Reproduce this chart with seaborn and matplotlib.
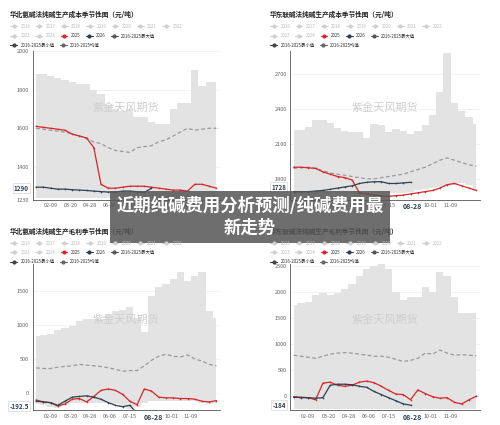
import matplotlib
matplotlib.use("Agg")
import matplotlib.pyplot as plt
import seaborn as sns
import numpy as np
import pandas as pd
from matplotlib.lines import Line2D

sns.set_style("white")
plt.rcParams['font.family'] = ['Noto Sans CJK SC', 'DejaVu Sans']

weeks = list(range(2, 54, 2))
tick_pos = [6, 11.5, 17, 22.5, 28, 34.5, 39.5, 45]
tick_labels = ["02-09", "03-20", "04-28", "06-06", "07-15", "08-28", "10-01", "11-09"]

titles = ["华北氨碱法纯碱生产成本季节性图（元/吨）", "华东联碱法纯碱生产成本季节性图（元/吨）",
          "华北氨碱法纯碱生产毛利季节性图（元/吨）", "华东联碱法纯碱生产毛利季节性图（元/吨）"]

tl_max = [1880,1880,1870,1860,1850,1840,1830,1830,1800,1780,1720,1700,1690,1700,1660,1660,1630,1620,1620,1700,1730,1730,1900,1820,1840,1840]
tl_min = [1240]*26
tl_mean = [1600,1595,1590,1585,1580,1570,1560,1545,1530,1520,1500,1485,1480,1475,1500,1505,1510,1530,1540,1560,1580,1600,1590,1595,1600,1600]
tl_2025 = [1610,1605,1600,1595,1590,1570,1560,1550,1500,1310,1290,1290,1295,1300,1300,1300,1295,1290,1285,1280,1280,1275,1310,1310,1300,1290]
tl_2026 = [1295,1295,1290,1285,1285,1282,1280,1278,1275,1272,1270,1270,1275,1275,1272,1268,1290]

tr_max = [2220,2220,2250,2310,2310,2280,2240,2210,2200,2200,2150,2270,2260,2200,2230,2210,2190,2210,2260,2350,2550,2880,2450,2380,2330,2270]
tr_min = [1680,1680,1680,1680,1680,1680,1680,1680,1680,1680,1680,1680,1680,1680,1680,1680,1690,1700,1710,1720,1730,1740,1750,1760,1750,1700]
tr_mean = [1890,1895,1900,1890,1870,1850,1840,1830,1820,1810,1800,1800,1810,1820,1830,1840,1860,1880,1900,1930,1960,1980,1960,1940,1920,1910]
tr_2025 = [1900,1900,1895,1890,1860,1840,1820,1810,1790,1680,1670,1660,1655,1650,1655,1660,1670,1680,1690,1700,1720,1750,1760,1740,1720,1700]
tr_2026 = [1690,1690,1690,1695,1700,1710,1720,1730,1740,1760,1770,1775,1775,1760,1760,1765,1770]

bl_max = [830,850,870,920,950,980,1050,1080,1090,1080,1160,1200,1220,1260,1100,900,1430,1560,1600,1680,1780,1640,1720,1770,1200,1100]
bl_min = [-160,-170,-200,-220,-180,-150,-150,-150,-150,-150,-150,-160,-200,-230,-200,-150,-120,-120,-120,-120,-120,-120,-120,-150,-160,-150]
bl_mean = [370,360,360,380,390,400,420,410,400,390,370,350,320,330,330,400,480,540,570,540,530,560,500,470,420,400]
bl_2025 = [-100,-130,-140,-190,-160,-90,-80,-130,-50,40,60,40,-20,-120,-170,60,30,-60,-70,-70,-80,-80,-90,-120,-130,-110]
bl_2026 = [-120,-130,-140,-180,-120,-60,-50,-40,-60,-90,-140,-180,-200,-180,-300,-300,-300]

br_max = [1750,1780,1800,1950,1980,1950,1990,2050,2150,2300,2450,2500,2550,2450,2000,1850,1900,1900,2100,2000,2380,2300,1900,1600,1600,1600]
br_min = [-250]*26
br_mean = [780,760,740,720,760,800,820,830,820,800,780,760,760,740,700,660,680,720,820,800,880,820,780,790,780,770]
br_2025 = [-20,-30,-40,-80,240,260,200,180,200,260,280,250,180,100,30,20,-80,110,40,-20,-50,-40,-130,-160,-80,-10]
br_2026 = [-30,-40,-40,-50,-40,200,220,220,210,180,160,80,20,-40,-100,-160,-184]

panels = [
    (tl_max, tl_min, tl_mean, tl_2025, tl_2026, (1230, 2000), [1230, 1400, 1600, 1800, 2000], "1290", 1290),
    (tr_max, tr_min, tr_mean, tr_2025, tr_2026, (1620, 2900), [1800, 2100, 2400, 2700], "1728", 1728),
    (bl_max, bl_min, bl_mean, bl_2025, bl_2026, (-250, 1900), [0, 500, 1000, 1500], "-192.5", -192.5),
    (br_max, br_min, br_mean, br_2025, br_2026, (-280, 2550), [0, 500, 1000, 1500, 2000, 2500], "-184", -184),
]

fig = plt.figure(figsize=(5, 4.25), dpi=100)
rects = [[0.065, 0.53, 0.375, 0.35], [0.58, 0.53, 0.38, 0.35],
         [0.065, 0.035, 0.375, 0.345], [0.58, 0.035, 0.38, 0.345]]
title_y = [0.975, 0.975, 0.465, 0.465]
title_x = [0.02, 0.54, 0.02, 0.54]

legend_labels = ["2016", "2017", "2018", "2019", "2020", "2021", "2022", "2023", "2024",
                 "2025", "2026", "2016-2025最大值", "2016-2025最小值", "2016-2025均值"]
legend_colors = ["#d0d0d0"]*9 + ["#d62728", "#2f4050", "#555555", "#444444", "#666666"]
text_colors = ["#bbbbbb"]*9 + ["#333333"]*5
rows = [(0, 7), (7, 12), (12, 14)]

for i, (mx, mn, mean, y25, y26, ylim, yt, lab, lv) in enumerate(panels):
    ax = fig.add_axes(rects[i])
    ax.fill_between(weeks, mn, mx, color="#e3e3e3", step="mid", lw=0)
    sns.lineplot(x=weeks, y=mean, ax=ax, color="#999999", lw=0.9, linestyle=(0, (3, 2)))
    sns.lineplot(x=weeks, y=y25, ax=ax, color="#d62728", lw=0.9, marker="o", markersize=1.2, mec="none")
    sns.lineplot(x=weeks[:len(y26)], y=y26, ax=ax, color="#2f4050", lw=0.9, marker="o", markersize=1.2, mec="none")
    ax.set_ylim(*ylim)
    ax.set_xlim(1, 53)
    ax.set_yticks(yt)
    ax.set_yticklabels([str(v) for v in yt], fontsize=4, color="#666666")
    ax.set_xticks(tick_pos)
    ax.set_xticklabels(tick_labels, fontsize=4, color="#666666")
    ax.get_xticklabels()[5].set_fontweight("bold")
    ax.get_xticklabels()[5].set_fontsize(5)
    ax.get_xticklabels()[5].set_color("#2f4050")
    ax.tick_params(length=1.5, pad=1)
    ax.grid(axis="y", color="#eeeeee", lw=0.5)
    for s in ["top", "right"]:
        ax.spines[s].set_visible(False)
    ax.spines["left"].set_color("#555555")
    ax.spines["bottom"].set_color("#555555")
    ax.spines["left"].set_linewidth(0.6)
    ax.spines["bottom"].set_linewidth(0.6)
    ax.text(-0.02, lv, lab, transform=ax.get_yaxis_transform(), ha="right", va="center",
            fontsize=4.5, fontweight="bold", color="#2f4050",
            bbox=dict(boxstyle="square,pad=0.2", fc="white", ec="#cccccc", lw=0.4))
    ax.text(0.5, 0.62, "紫金天风期货", transform=ax.transAxes, ha="center", va="center",
            fontsize=8, color="#cfcfcf")
    fig.text(title_x[i], title_y[i], titles[i], fontsize=4.8, fontweight="bold", color="#222222", va="top")
    for r, (a, b) in enumerate(rows):
        handles = [Line2D([], [], color=c, marker="o", markersize=2, lw=0.8) for c in legend_colors[a:b]]
        fig.legend(handles, legend_labels[a:b], loc="upper left",
                   bbox_to_anchor=(title_x[i] - 0.005, title_y[i] - 0.025 - r * 0.022), ncol=b - a,
                   fontsize=3.2, frameon=False, handlelength=1.5, columnspacing=1.2,
                   borderpad=0.1, labelcolor=text_colors[a:b])

fig.text(0.5, 0.49, "近期纯碱费用分析预测/纯碱费用最\n新走势", ha="center", va="center",
         fontsize=12.5, fontweight="bold", color="white", linespacing=1.25,
         bbox=dict(boxstyle="square,pad=0.35", fc="#555555", ec="none", alpha=0.85))

fig.savefig("out.png", dpi=100)
